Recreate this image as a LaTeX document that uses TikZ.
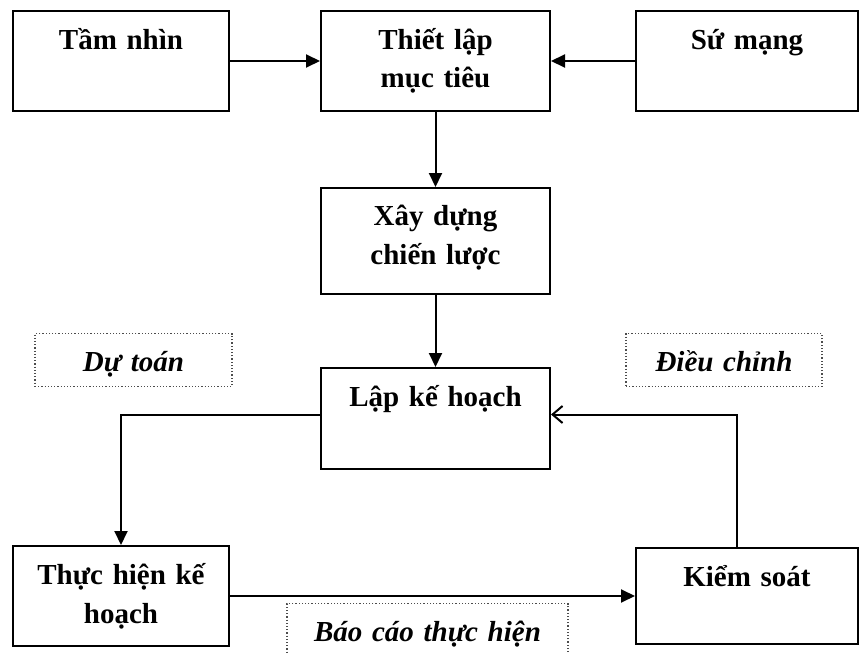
\documentclass[tikz,border=0pt]{standalone}
\usepackage{fontspec}
\setmainfont{Liberation Serif}
\usetikzlibrary{positioning,arrows.meta}

\begin{document}
\begin{tikzpicture}[x=0.5pt, y=-0.5pt,
  box/.style={draw, line width=1pt, align=center, anchor=north,
    inner xsep=0pt, inner ysep=0pt, text height=19pt,
    font=\fontsize{14.5}{19.5}\selectfont\bfseries},
  note/.style={draw=black!70, densely dotted, line width=0.6pt,
    align=center, anchor=north, inner xsep=0pt, inner ysep=0pt,
    text height=19pt, text depth=7.5pt,
    font=\fontsize{14.5}{18}\selectfont\bfseries\itshape},
  arr/.style={line width=1pt, -{Triangle[length=7pt, width=6.5pt]}},
  back/.style={line width=1pt, -{Straight Barb[length=5pt, width=8.5pt]}},
]
  \useasboundingbox (0,0) rectangle (859,653);
  \clip (0,0) rectangle (859,653);

  % === TOP ROW ===
  \node[box, text width=108pt, text depth=31pt] (tamnhin) at (121,10) {Tầm nhìn};
  \node[box, text width=114.5pt, text depth=31pt] (thietlap) at (435.5,10) {Thiết lập\\mục tiêu};
  \node[box, text width=111pt, text depth=31pt] (sumang) at (747,10) {Sứ mạng};

  % === MIDDLE COLUMN ===
  \node[box, text width=114.5pt, text depth=34pt] (xaydung) at (435.5,187) {Xây dựng\\chiến lược};
  \node[box, text width=114.5pt, text depth=31.5pt] (lapkh) at (435.5,367) {Lập kế hoạch};

  % === BOTTOM ROW ===
  \node[box, text width=108pt, text depth=31pt] (thuchien) at (121,545) {Thực hiện kế\\hoạch};
  \node[box, text width=111pt, text depth=29pt] (kiemsoat) at (747,547) {Kiểm soát};

  % Dotted notes
  \node[note, text width=98.5pt] (dutoan) at (133.5,333) {Dự toán};
  \node[note, text width=98pt] (dieuchinh) at (724,333) {Điều chỉnh};
  \node[note, text width=140.5pt, text depth=20pt] (baocao) at (427.5,603) {Báo cáo thực hiện};

  % Connectors
  \draw[arr] (tamnhin.east) -- (thietlap.west);
  \draw[arr] (sumang.west) -- (thietlap.east);
  \draw[arr] (thietlap.south) -- (xaydung.north);
  \draw[arr] (xaydung.south) -- (lapkh.north);
  \draw[arr] ([yshift=2pt]lapkh.west) -| (thuchien.north);
  \draw[arr] (thuchien.east) -- (kiemsoat.west);
  \draw[back] ([xshift=-5pt]kiemsoat.north) |- ([yshift=2pt]lapkh.east);
\end{tikzpicture}
\end{document}
